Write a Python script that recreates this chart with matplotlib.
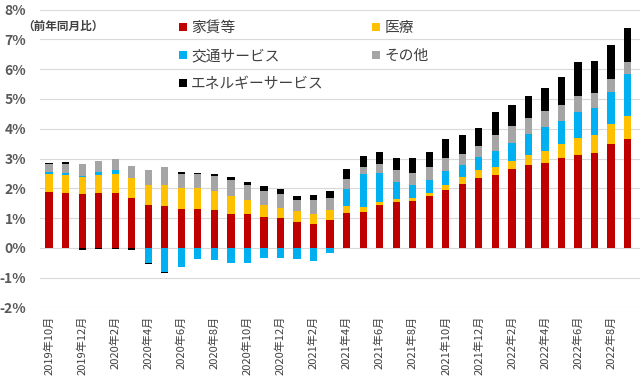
import numpy as np
import matplotlib
matplotlib.use("Agg")
import matplotlib.pyplot as plt
from matplotlib.patches import Patch

plt.rcParams['font.family'] = ['Noto Sans CJK JP', 'DejaVu Sans']

# --- data: contribution to YoY change (%), Oct 2019 - Sep 2022 ---
months = []
for y, m in [(2019, 10), (2019, 11), (2019, 12)] + [(yy, mm) for yy in (2020, 2021, 2022) for mm in range(1, 13)]:
    if (y, m) <= (2022, 9):
        months.append(f"{y}年{m}月")

rent = [1.88, 1.85, 1.80, 1.85, 1.83, 1.66, 1.44, 1.42, 1.31, 1.29, 1.27, 1.13,
        1.13, 1.03, 1.00, 0.88, 0.80, 0.93, 1.17, 1.21, 1.43, 1.55, 1.57, 1.74,
        1.93, 2.13, 2.33, 2.43, 2.64, 2.78, 2.84, 3.03, 3.11, 3.18, 3.48, 3.67]
medical = [0.59, 0.59, 0.58, 0.59, 0.64, 0.69, 0.68, 0.68, 0.70, 0.72, 0.64, 0.60,
           0.46, 0.42, 0.33, 0.34, 0.35, 0.35, 0.24, 0.16, 0.11, 0.08, 0.11, 0.10,
           0.19, 0.25, 0.28, 0.29, 0.28, 0.33, 0.42, 0.45, 0.57, 0.60, 0.67, 0.75]
transport = [0.06, 0.08, 0.04, 0.11, 0.16, 0.00, -0.52, -0.82, -0.65, -0.37, -0.40, -0.51,
             -0.51, -0.35, -0.35, -0.39, -0.43, -0.16, 0.57, 1.11, 0.98, 0.58, 0.44, 0.43,
             0.45, 0.40, 0.43, 0.54, 0.61, 0.72, 0.81, 0.79, 0.88, 0.93, 1.08, 1.42]
other = [0.28, 0.31, 0.39, 0.37, 0.37, 0.41, 0.49, 0.62, 0.48, 0.46, 0.51, 0.54,
         0.51, 0.46, 0.49, 0.37, 0.44, 0.38, 0.33, 0.22, 0.30, 0.39, 0.39, 0.43,
         0.44, 0.38, 0.39, 0.53, 0.56, 0.52, 0.52, 0.52, 0.54, 0.48, 0.45, 0.40]
energy = [0.04, 0.05, -0.09, -0.03, -0.03, -0.08, -0.04, -0.04, 0.05, 0.05, 0.06, 0.11,
          0.11, 0.16, 0.16, 0.15, 0.18, 0.24, 0.34, 0.37, 0.39, 0.43, 0.52, 0.52,
          0.66, 0.62, 0.60, 0.78, 0.71, 0.76, 0.79, 0.96, 1.15, 1.09, 1.15, 1.13]

series = [
    ("家賃等", rent, "#C00000"),
    ("医療", medical, "#FFC000"),
    ("交通サービス", transport, "#00B0F0"),
    ("その他", other, "#A5A5A5"),
    ("エネルギーサービス", energy, "#000000"),
]

# --- plot ---
fig = plt.figure(figsize=(6.4, 3.79), dpi=100)
ax = fig.add_axes([40 / 640, 1 - 307.3 / 379, 600 / 640, (307.3 - 9.7) / 379])

x = np.arange(len(months))
pos_bottom = np.zeros(len(months))
neg_bottom = np.zeros(len(months))
handles = {}
for name, vals, color in series:
    v = np.array(vals)
    bottom = np.where(v >= 0, pos_bottom, neg_bottom)
    ax.bar(x, v, 0.44, bottom=bottom, color=color, zorder=3)
    pos_bottom += np.where(v >= 0, v, 0)
    neg_bottom += np.where(v < 0, v, 0)
    handles[name] = Patch(facecolor=color)

ax.set_xlim(-0.55, 35.75)
ax.set_ylim(-2, 8)
ax.set_yticks(range(-2, 9))
ax.set_yticklabels([f"{v}%" for v in range(-2, 9)], fontsize=10, color="#595959",
                   fontweight="bold")
ax.set_xticks(x[::2])
ax.set_xticklabels(months[::2], rotation=90, fontsize=8, color="#404040")
ax.tick_params(axis="both", length=0)
ax.tick_params(axis="y", pad=10)
ax.tick_params(axis="x", pad=6)
ax.grid(axis="y", color="#D9D9D9", linewidth=0.8, zorder=0)
for s in ax.spines.values():
    s.set_visible(False)

order = ["家賃等", "交通サービス", "エネルギーサービス", "医療", "その他"]
leg = fig.legend([handles[k] for k in order], order, ncol=2, loc="upper left",
                 bbox_to_anchor=(166 / 640, 1 - 8 / 379), frameon=False,
                 fontsize=10.6, handlelength=0.5, handleheight=0.5, handletextpad=0.3,
                 columnspacing=3.3, labelspacing=0.95)
for t in leg.get_texts():
    t.set_color("#404040")

fig.text(22 / 640, 1 - 26.5 / 379, "（前年同月比）", fontsize=8.4, color="#404040",
         va="center", ha="left", fontweight="bold")

fig.savefig("out.png", dpi=100)
